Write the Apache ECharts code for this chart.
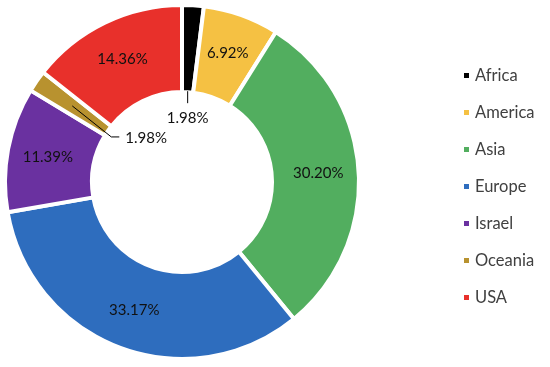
<!DOCTYPE html>
<html><head><meta charset="utf-8">
<script src="https://cdn.jsdelivr.net/npm/echarts@6/dist/echarts.min.js"></script>
<style>html,body{margin:0;padding:0;background:#fff}#c{width:550px;height:367px}</style>
</head><body><div id="c"></div>
<script>
var categories = ["Africa","America","Asia","Europe","Israel","Oceania","USA"];
var values = [1.98, 6.92, 30.20, 33.17, 11.39, 1.98, 14.36];
var colors = ["#000000","#F5C143","#52AE5F","#2E6DBE","#6A31A0","#B8922F","#E8302B"];
var calloutItems = ["Africa","Oceania"];

var cx = 182, cy = 182, r0 = 90, r1 = 177;
var total = values.reduce(function(a,b){return a+b;},0);
function midAngle(i){
  var s = 0; for (var k=0;k<i;k++) s += values[k];
  return (90 - (s + values[i]/2)/total*360) * Math.PI/180;
}
function pt(i, r){ var a = midAngle(i); return [cx + r*Math.cos(a), cy - r*Math.sin(a)]; }
function fmt(p){ return p.value.toFixed(2)+'%'; }

var mainData = categories.map(function(n,i){
  var d = {name:n, value:values[i], itemStyle:{color:colors[i]}};
  if (calloutItems.indexOf(n) >= 0) d.label = {show:false};
  return d;
});
var calloutData = categories.map(function(n,i){
  var on = calloutItems.indexOf(n) >= 0;
  return {name:n, value:values[i],
    label:{show:on}, labelLine:{show:on, lineStyle:{color:'#000', width:1}}};
});

var chart = echarts.init(document.getElementById('c'), null, {renderer:'canvas'});
chart.setOption({
  animation:false,
  legend:{
    orient:'vertical', left:457, top:62, icon:'rect', itemWidth:7, itemHeight:7, itemGap:20,
    textStyle:{fontFamily:'Lato', fontSize:16.5, color:'#404040', lineHeight:17, padding:[0,0,0,0]},
    data:categories
  },
  series:[{
    type:'pie', center:[cx,cy], radius:[r0,r1], startAngle:90, clockwise:true,
    avoidLabelOverlap:false, z:2,
    itemStyle:{borderColor:'#fff', borderWidth:4},
    label:{show:true, position:'inside', formatter:fmt,
      fontFamily:'Lato', fontSize:15, color:'#111'},
    labelLine:{show:false},
    data:mainData
  },{
    type:'pie', center:[cx,cy], radius:[r0,r1], startAngle:90, clockwise:true,
    avoidLabelOverlap:false, silent:true, z:5,
    itemStyle:{color:'rgba(0,0,0,0)', borderWidth:0},
    label:{position:'outside', formatter:fmt, fontFamily:'Lato', fontSize:15, color:'#111'},
    data:calloutData,
    labelLayout:function(p){
      if (p.dataIndex===0){
        var a = pt(0, r0+1), b = [a[0], a[1]+12];
        return {x:b[0], y:b[1]+15, align:'center', verticalAlign:'middle', labelLinePoints:[a,b,b]};
      }
      if (p.dataIndex===5){
        var a2 = pt(5, (r0+r1)/2), b2 = [a2[0]+39, a2[1]+31], c2 = [b2[0]+8, b2[1]];
        return {x:c2[0]+6, y:c2[1]+1, align:'left', verticalAlign:'middle', labelLinePoints:[a2,b2,c2]};
      }
    }
  }]
});
</script></body></html>
